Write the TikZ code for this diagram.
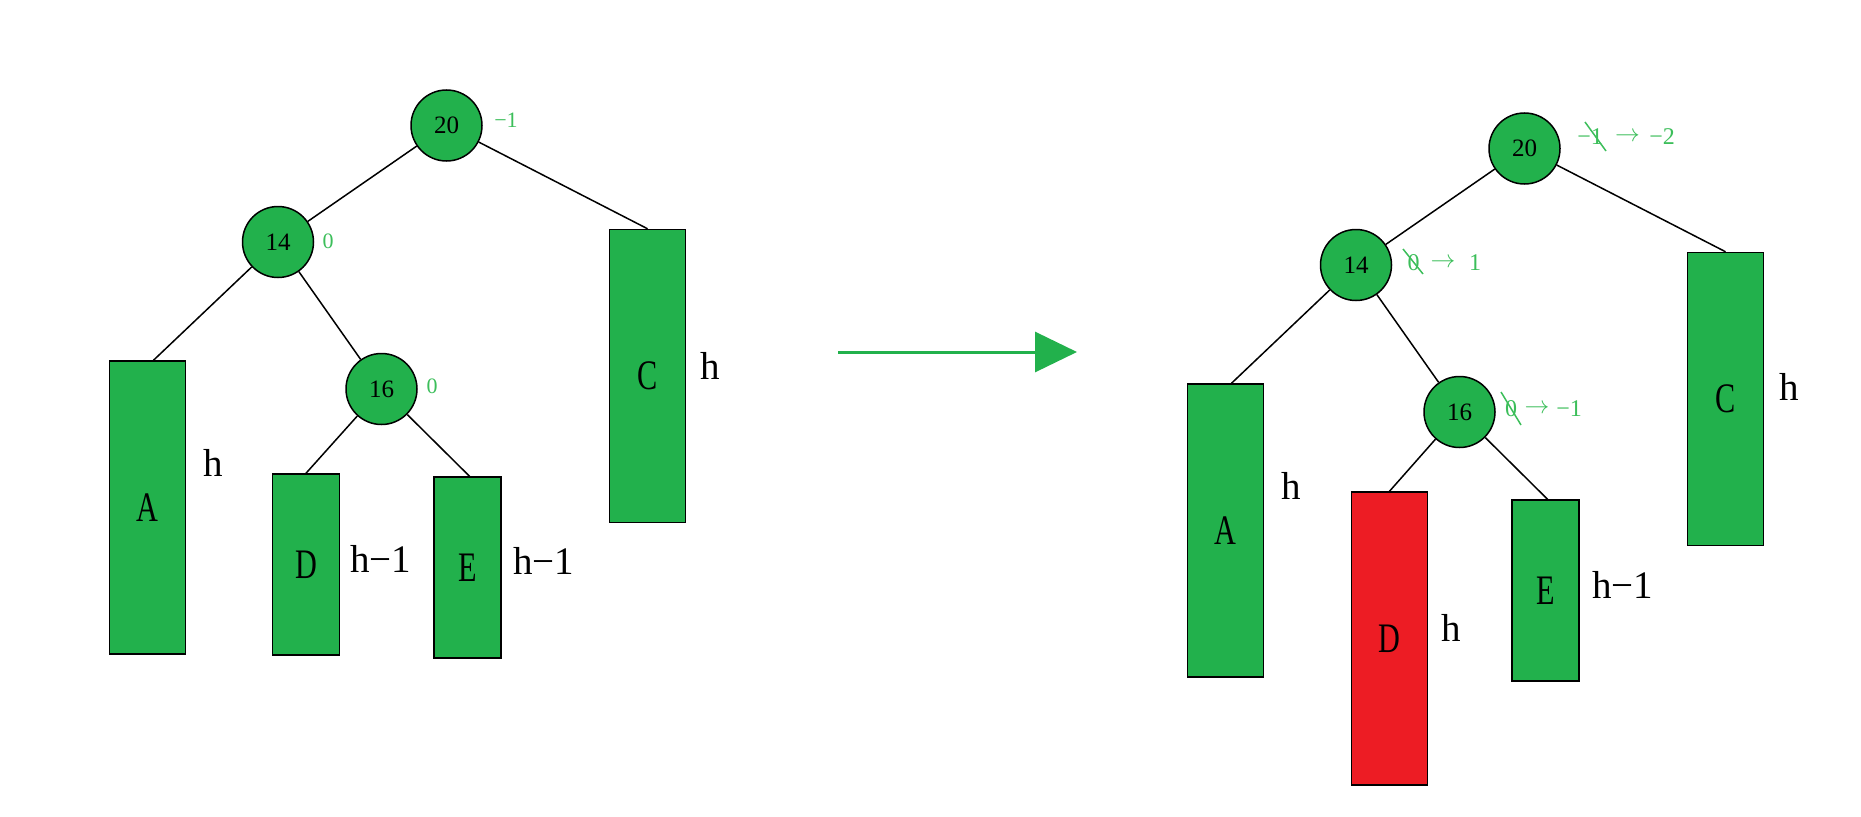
\documentclass[tikz,border=0pt]{standalone}
\usepackage{fontspec}
\setmainfont{Liberation Serif}
\usetikzlibrary{arrows.meta}
\definecolor{nodegreen}{RGB}{34,177,76}
\definecolor{txtgreen}{RGB}{60,190,90}
\definecolor{nodered}{RGB}{237,28,36}
\tikzset{
  keynode/.style={circle, draw=black, line width=1.5bp, fill=nodegreen, minimum size=71bp, inner sep=0pt, font=\fontsize{25bp}{25bp}\selectfont},
  subtree/.style={rectangle, draw=black, line width=1.5bp, fill=nodegreen, inner sep=0pt, font=\fontsize{42bp}{42bp}\selectfont},
  tallbox/.style={subtree, minimum width=76bp, minimum height=293bp},
  shortbox/.style={subtree, minimum width=67bp, minimum height=181bp},
  hlabel/.style={inner sep=0pt, font=\fontsize{39bp}{39bp}\selectfont},
  bal/.style={inner sep=0pt, text=txtgreen, font=\fontsize{22bp}{22bp}\selectfont},
  balnew/.style={inner sep=0pt, text=txtgreen, font=\fontsize{24bp}{24bp}\selectfont},
  balarrow/.style={inner sep=0pt, text=txtgreen, font=\fontsize{27bp}{27bp}\selectfont},
  edge/.style={draw=black, line width=1.5bp},
  strike/.style={draw=txtgreen, line width=1.5bp},
}
\newcommand{\boxletter}[1]{\scalebox{0.72}[1]{#1}}
\begin{document}
\begin{tikzpicture}[x=1bp,y=-1bp]
\useasboundingbox (0,0) rectangle (1861,817);

% ---------- left tree ----------
\node[keynode] (L20) at (446.5,125.5) {20};
\node[keynode] (L14) at (278,242) {14};
\node[keynode] (L16) at (381.5,389) {16};
\node[tallbox] (LA) at (147.5,507.5) {\boxletter{A}};
\node[shortbox] (LD) at (306,564.5) {\boxletter{D}};
\node[shortbox] (LE) at (467.5,567.5) {\boxletter{E}};
\node[tallbox] (LC) at (647.5,376) {\boxletter{C}};

\draw[edge] (L20) -- (L14);
\draw[edge] (L20) -- (LC.north);
\draw[edge] (L14) -- ([xshift=6bp]LA.north);
\draw[edge] (L14) -- (L16);
\draw[edge] (L16) -- (LD.north);
\draw[edge] (L16) -- ([xshift=2bp]LE.north);

\node[bal] (Lb20) at (506,120) {−1};
\node[bal] (Lb14) at (328,241) {0};
\node[bal] (Lb16) at (432,386) {0};

\node[hlabel] (LhA) at (213,463) {h};
\node[hlabel, anchor=west] (LhD) at (350,559) {h−1};
\node[hlabel, anchor=west] (LhE) at (513,561) {h−1};
\node[hlabel] (LhC) at (710,366) {h};

% ---------- transition arrow ----------
\coordinate (arrS) at (838,352);
\coordinate (arrE) at (1077,352);
\draw[draw=nodegreen, line width=3bp, -{Triangle[length=42bp,width=40bp]}] (arrS) -- (arrE);

% ---------- right tree ----------
\node[keynode] (R20) at (1524.5,148.5) {20};
\node[keynode] (R14) at (1356,265) {14};
\node[keynode] (R16) at (1459.5,412) {16};
\node[tallbox] (RA) at (1225.5,530.5) {\boxletter{A}};
\node[tallbox, fill=nodered] (RD) at (1389.5,638.5) {\boxletter{D}};
\node[shortbox] (RE) at (1545.5,590.5) {\boxletter{E}};
\node[tallbox] (RC) at (1725.5,399) {\boxletter{C}};

\draw[edge] (R20) -- (R14);
\draw[edge] (R20) -- (RC.north);
\draw[edge] (R14) -- ([xshift=6bp]RA.north);
\draw[edge] (R14) -- (R16);
\draw[edge] (R16) -- (RD.north);
\draw[edge] (R16) -- ([xshift=2bp]RE.north);

% balance factor changes
\node[balnew] (o20) at (1590,137) {−1};
\node[balarrow] (a20) at (1627.5,137) {$\rightarrow$};
\node[balnew] (n20) at (1662,137) {−2};
\draw[strike] ([shift={(-5,-15)}]o20.center) -- ([shift={(16,14)}]o20.center);

\node[balnew] (o14) at (1413.5,263) {0};
\node[balarrow] (a14) at (1443,263) {$\rightarrow$};
\node[balnew] (n14) at (1475,263) {1};
\draw[strike] ([shift={(-10.5,-14)}]o14.center) -- ([shift={(9.5,11)}]o14.center);

\node[balnew] (o16) at (1511,409) {0};
\node[balarrow] (a16) at (1537,409) {$\rightarrow$};
\node[balnew] (n16) at (1569,409) {−1};
\draw[strike] ([shift={(-10,-17)}]o16.center) -- ([shift={(10,16)}]o16.center);

\node[hlabel] (RhA) at (1291,486) {h};
\node[hlabel] (RhD) at (1451,628) {h};
\node[hlabel, anchor=west] (RhE) at (1592,585) {h−1};
\node[hlabel] (RhC) at (1789,387) {h};
\end{tikzpicture}
\end{document}
